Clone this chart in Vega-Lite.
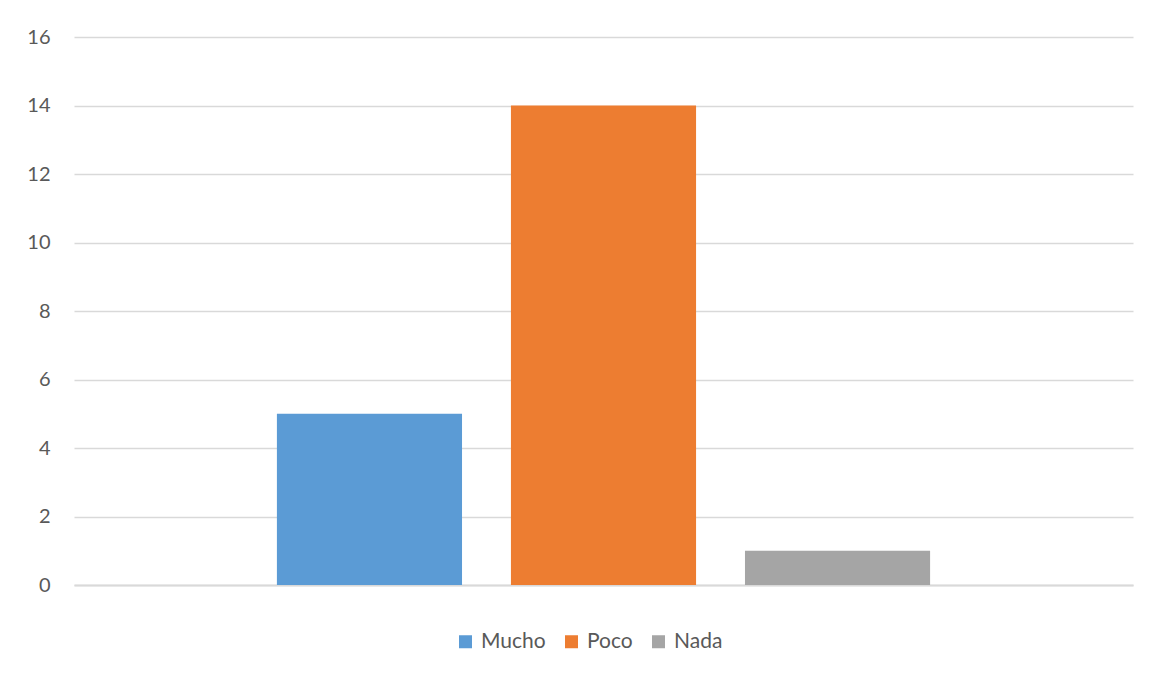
{
  "$schema": "https://vega.github.io/schema/vega-lite/v6.json",
  "autosize": {"type": "none"},
  "width": 1059,
  "height": 548,
  "padding": {"left": 74, "top": 37, "right": 27, "bottom": 89},
  "background": "white",
  "config": {
    "view": {"stroke": null},
    "font": "Lato"
  },
  "data": {
    "values": [
      {"respuesta": "Mucho", "valor": 5},
      {"respuesta": "Poco", "valor": 14},
      {"respuesta": "Nada", "valor": 1}
    ]
  },
  "mark": {"type": "bar"},
  "encoding": {
    "x": {
      "field": "respuesta",
      "type": "nominal",
      "sort": ["Mucho", "Poco", "Nada"],
      "scale": {"paddingInner": 0.209, "paddingOuter": 0.867},
      "axis": {
        "title": null,
        "labels": false,
        "ticks": false,
        "domain": true,
        "domainColor": "#d9d9d9",
        "domainWidth": 2
      }
    },
    "y": {
      "field": "valor",
      "type": "quantitative",
      "scale": {"domain": [0, 16]},
      "axis": {
        "title": null,
        "values": [0, 2, 4, 6, 8, 10, 12, 14, 16],
        "domain": false,
        "ticks": false,
        "labelPadding": 24,
        "labelFontSize": 20,
        "labelColor": "#595959",
        "gridColor": "#d9d9d9",
        "gridWidth": 1.3
      }
    },
    "color": {
      "field": "respuesta",
      "type": "nominal",
      "sort": ["Mucho", "Poco", "Nada"],
      "scale": {"domain": ["Mucho", "Poco", "Nada"], "range": ["#5B9BD5", "#ED7D31", "#A5A5A5"]},
      "legend": {
        "title": null,
        "orient": "none",
        "direction": "horizontal",
        "legendX": 381,
        "legendY": 594,
        "symbolType": "square",
        "symbolSize": 169,
        "symbolStrokeWidth": 0,
        "labelFontSize": 21,
        "labelColor": "#595959",
        "columnPadding": 15,
        "labelOffset": 5
      }
    }
  }
}
